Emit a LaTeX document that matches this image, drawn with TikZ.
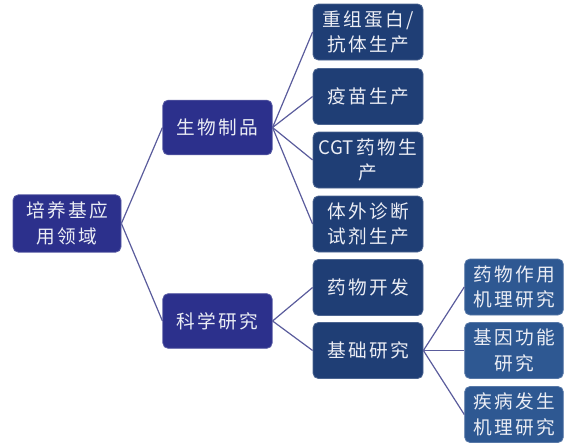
\documentclass[tikz,border=0pt]{standalone}
\usepackage{fontspec}
\newfontfamily\cjk[LetterSpace=12]{Noto Sans CJK SC}
\newfontfamily\cjktight{Noto Sans CJK SC}
\definecolor{cRoot}{RGB}{44,48,140}
\definecolor{cMid}{RGB}{31,62,117}
\definecolor{cLeaf}{RGB}{46,88,146}
\definecolor{cLine}{RGB}{90,92,156}
\definecolor{cText}{RGB}{236,238,245}
\begin{document}
\begin{tikzpicture}[x=0.75pt,y=-0.75pt,
  box/.style={draw=#1!80!white,line width=0.6pt,fill=#1,rounded corners=4pt,align=center,
    text=cText,inner sep=0pt,font=\cjk\fontsize{14}{19}\selectfont,anchor=center},
  rootbox/.style={box=cRoot,minimum width=81pt,minimum height=43pt},
  midbox/.style={box=cRoot,minimum width=82pt,minimum height=41pt},
  lvtwo/.style={box=cMid,minimum width=82.5pt,minimum height=42pt},
  lvthree/.style={box=cLeaf,minimum width=74pt,minimum height=42pt},
  conn/.style={draw=cLine,line width=0.9pt}]
\useasboundingbox (0,0) rectangle (565,443);
\node[rootbox] (root) at (67,223.5) {培养基应\\用领域};
\node[midbox] (bio) at (217.5,127.5) {生物制品};
\node[midbox] (sci) at (217.5,321) {科学研究};
\node[lvtwo] (a1) at (368,32) {重组蛋白/\\抗体生产};
\node[lvtwo] (a2) at (368,96.5) {疫苗生产};
\node[lvtwo] (a3) at (368,160) {{\cjktight CGT}\,药物生\\产};
\node[lvtwo] (a4) at (368,224) {体外诊断\\试剂生产};
\node[lvtwo] (b1) at (368,287.5) {药物开发};
\node[lvtwo] (b2) at (368,350.5) {基础研究};
\node[lvthree] (c1) at (514,287) {药物作用\\机理研究};
\node[lvthree] (c2) at (514,350.5) {基因功能\\研究};
\node[lvthree] (c3) at (514,414.5) {疾病发生\\机理研究};
\foreach \t in {bio,sci} \draw[conn] (root.east) -- (\t.west);
\foreach \t in {a1,a2,a3,a4} \draw[conn] (bio.east) -- (\t.west);
\foreach \t in {b1,b2} \draw[conn] (sci.east) -- (\t.west);
\foreach \t in {c1,c2,c3} \draw[conn] (b2.east) -- (\t.west);
\end{tikzpicture}
\end{document}
